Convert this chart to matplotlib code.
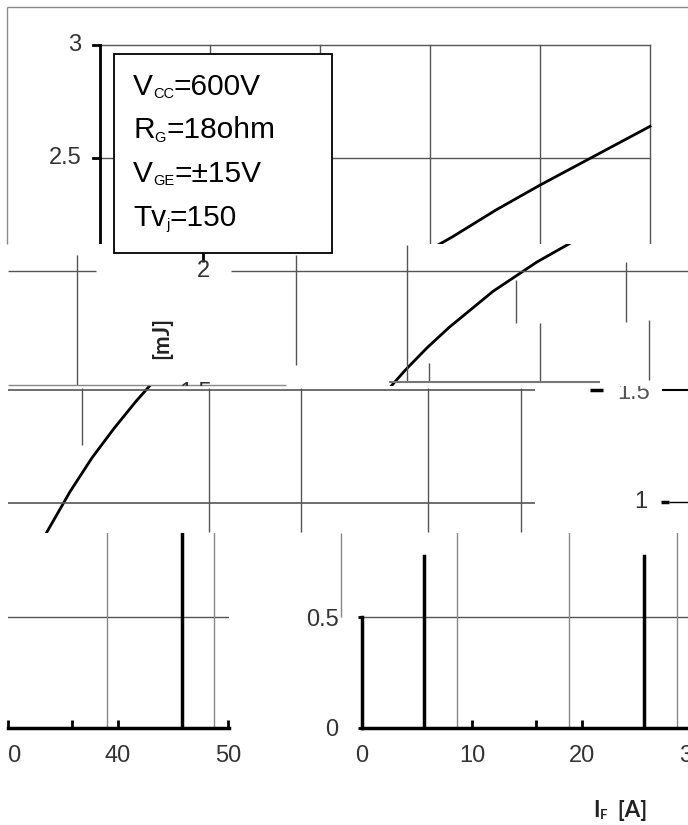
import matplotlib
matplotlib.use('Agg')
import matplotlib.pyplot as plt
from matplotlib.patches import Rectangle
from matplotlib.transforms import Bbox, TransformedBbox

W, H = 688, 825
GRID = '#555555'
NUM_FONT = ['Liberation Sans', 'DejaVu Sans']
BOX_FONT = ['Liberation Sans', 'DejaVu Sans']
LAB_FONT = ['Lato', 'DejaVu Sans']
plt.rcParams['font.family'] = NUM_FONT

# Erec vs IF
if_a = [4, 6, 8, 10, 12, 14, 16, 18, 20, 24, 28, 32, 36, 40, 45, 50]
erec_mj = [0.70, 0.88, 1.05, 1.20, 1.33, 1.45, 1.56, 1.66, 1.75, 1.91, 2.04, 2.15, 2.27, 2.38, 2.51, 2.64]
# smeared columns in the bottom strip
streak_if = [5.6, 25.6, 45.8]
ghost_if = [8.6, 18.8, 28.6, 39.0, 48.7]
# test conditions: (symbol, subscript, rest)
box_lines = [('V', 'CC', '=600V'), ('R', 'G', '=18ohm'), ('V', 'GE', '=±15V'), ('Tv', 'j', '=150')]

fig = plt.figure(figsize=(W / 100, H / 100), dpi=100)

# pixel overlay for the broken scaffolding
ov = fig.add_axes([0, 0, 1, 1], zorder=5)
ov.set_xlim(0, W)
ov.set_ylim(H, 0)
ov.set_axis_off()


def hl(y, x1, x2, c=GRID, lw=1.0):
    ov.plot([x1, x2], [y, y], color=c, lw=lw, solid_capstyle='butt')


def vl(x, y1, y2, c=GRID, lw=1.0):
    ov.plot([x, x], [y1, y2], color=c, lw=lw, solid_capstyle='butt')


def band(l, t, r, b, x0, y_px, y_val, xs=11.0, ys=226.0):
    ax = fig.add_axes([l / W, 1 - b / H, (r - l) / W, (b - t) / H], zorder=1)
    ax.set_xlim((l - x0) / xs, (r - x0) / xs)
    ax.set_ylim(y_val - (b - y_px) / ys, y_val + (y_px - t) / ys)
    ax.set_axis_off()
    return ax


def clipped_text(ax, x, y, s, **kw):
    t = ov.text(x, y, s, **kw)
    t.set_clip_on(True)
    t.set_clip_box(ax.bbox)
    return t


def sub_text(x, y, main, sub, rest, size, sub_size, **kw):
    t1 = ov.text(x, y, main, fontsize=size, va='bottom', ha='left', **kw)
    t2 = ov.annotate(sub, xy=(1, 0), xycoords=t1, fontsize=sub_size, va='bottom', ha='left', **kw)
    ov.annotate(rest, xy=(1, 0), xycoords=t2, fontsize=size, va='bottom', ha='left', **kw)


# ---- top strip
axA = band(7, 7, 688, 244, 100, 45, 3.0)
lo = axA.get_ylim()[0]
for v in [2.5, 3.0]:
    axA.plot([0, 50], [v, v], color=GRID, lw=1)
    axA.plot([-0.64, 0], [v, v], color='black', lw=2)
for x in [10, 20, 30, 40, 50]:
    axA.plot([x, x], [lo, 3.0], color=GRID, lw=1)
axA.plot([0, 0], [lo, 3.0], color='black', lw=2)
axA.plot(if_a, erec_mj, color='black', lw=2)
axA.text(-1.7, 3.0, '3', ha='right', va='center', fontsize=17, color='#333333')
axA.text(-1.7, 2.5, '2.5', ha='right', va='center', fontsize=17, color='#333333')
hl(7, 7, 688, c='#888888')
vl(7, 7, 244, c='#888888')

# condition box
ov.add_patch(Rectangle((114, 54), 218, 199, facecolor='white', edgecolor='black', lw=1.3, zorder=10))
for i, (m, s, r) in enumerate(box_lines):
    sub_text(133, 101 + i * 43.5, m, s, r, 21.5, 10.5, family=BOX_FONT, zorder=11)

# ---- second strip
axB = band(8, 244, 688, 386, 229, 45, 3.0)
axB.plot(if_a, erec_mj, color='black', lw=2)
hl(271, 8, 96)
hl(271, 231, 688)
for x, y1, y2 in [(77, 255, 385), (296, 255, 365), (407, 245, 382), (516, 280, 323),
                  (626, 262, 322), (429, 363, 382), (540, 323, 382), (649, 320, 380)]:
    vl(x, y1, y2)
vl(203, 253, 262, c='black', lw=2)
hl(382, 389, 600, c='#777777', lw=1.5)
hl(385, 8, 286, c='#888888')
ov.text(203, 271, '2', ha='center', va='center', fontsize=17, color='#333333')
clipped_text(axB, 212, 393, '1.5', ha='right', va='center', fontsize=17, color='#333333')
ov.text(162, 338, '[mJ]', rotation=90, ha='center', va='center', fontsize=16,
        family=LAB_FONT, weight='bold', color='#222222')

# ---- third strip
ax3 = band(8, 386, 688, 533, -18, 390, 1.5)
ax3.plot(if_a, erec_mj, color='black', lw=2)
hl(390, 8, 535, lw=1.2)
hl(503, 8, 535, lw=1.2)
vl(82, 388, 445)
for x in [209, 301, 428, 521]:
    vl(x, 388, 532)
clipped_text(ax3, 634, 393, '1.5', ha='center', va='center', fontsize=17, color='#555555')
hl(390, 590, 603, c='black', lw=2.5)
hl(390, 662, 688, c='black', lw=1.5)
ov.text(641, 502, '1', ha='center', va='center', fontsize=17, color='#333333')
hl(502, 661, 669, c='black', lw=2.5)
hl(502, 669, 688, c='black', lw=1)
vl(341, 533, 617, c='#888888')

# ---- bottom strip, two panels
ytop = (728 - 533) / 222
axL = fig.add_axes([8 / W, 1 - 728 / H, 221 / W, 195 / H], zorder=1)
axL.set_xlim((8 + 322) / 11, (229 + 322) / 11)
axR = fig.add_axes([362 / W, 1 - 728 / H, 338 / W, 195 / H], zorder=1)
axR.set_xlim(0, 338 / 11)
for ax, top in [(axL, 1.0), (axR, 0.88)]:
    ax.set_ylim(0, ytop)
    ax.patch.set_alpha(0)
    for side in ['top', 'right', 'left']:
        ax.spines[side].set_visible(False)
    ax.spines['bottom'].set_linewidth(2.5)
    ax.axhline(0.5, color=GRID, lw=1)
    lo_x, hi_x = ax.get_xlim()
    for g in ghost_if:
        if lo_x < g < hi_x:
            ax.axvline(g, color='#888888', lw=1)
    for s in streak_if:
        if lo_x < s < hi_x:
            ax.axvline(s, ymax=top, color='black', lw=2.5)
    ax.tick_params(axis='x', which='both', direction='in', length=6, width=2, pad=12,
                   labelsize=17, labelcolor='#333333')
axL.set_xticks([30, 40, 50])
axL.set_xticks([35.8], minor=True)
axL.set_yticks([])
axR.set_xticks([0, 10, 20, 30])
axR.set_xticks([15.8], minor=True)
axR.spines['left'].set_visible(True)
axR.spines['left'].set_linewidth(2.5)
axR.spines['left'].set_bounds(0, 0.5)
axR.set_yticks([0, 0.5])
axR.set_yticklabels(['0', '0.5'])
axR.tick_params(axis='y', direction='out', length=3, width=2, pad=14, labelsize=17,
                labelcolor='#333333')
clip_bb = TransformedBbox(Bbox.from_extents(8 / W, 0, 1, 1), fig.transFigure)
for lab in axL.get_xticklabels():
    lab.set_clip_on(True)
    lab.set_clip_box(clip_bb)

sub_text(593, 821, 'I', 'F', '  [A]', 16, 9.5, family=LAB_FONT, weight='bold', color='#222222')

fig.savefig('out.png', dpi=100)
